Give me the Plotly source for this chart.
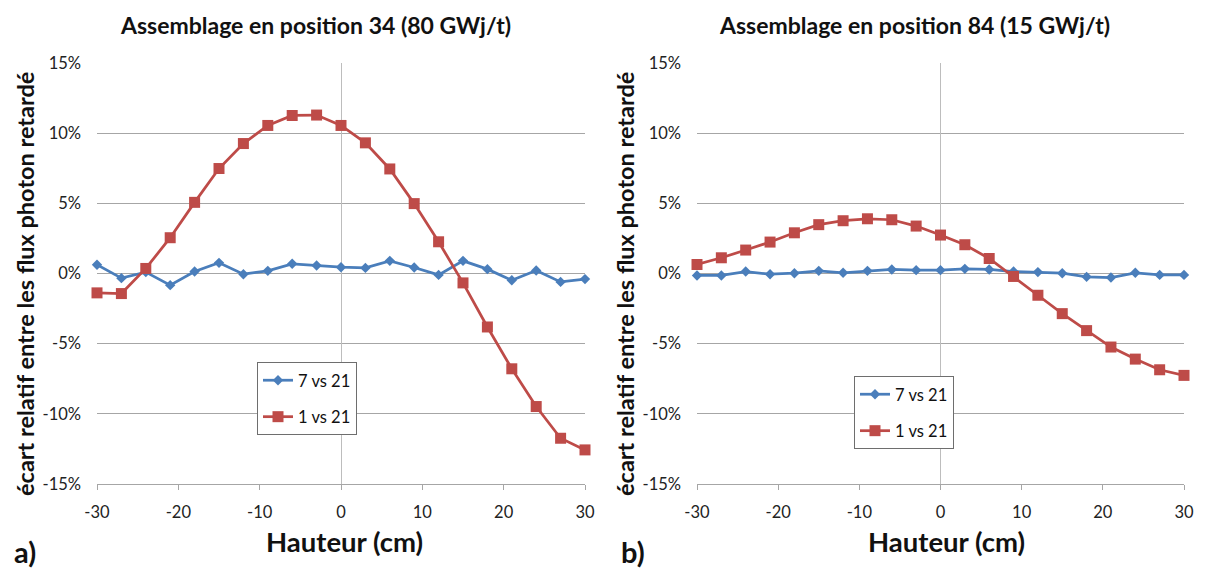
import plotly.graph_objects as go

hauteur = [-30, -27, -24, -21, -18, -15, -12, -9, -6, -3, 0, 3, 6, 9, 12, 15, 18, 21, 24, 27, 30]

a_7vs21 = [0.62, -0.33, 0.10, -0.83, 0.14, 0.76, -0.05, 0.19, 0.69, 0.57, 0.45, 0.40, 0.90, 0.43, -0.10, 0.90, 0.31, -0.48, 0.21, -0.60, -0.40]
a_1vs21 = [-1.38, -1.43, 0.36, 2.55, 5.07, 7.48, 9.26, 10.55, 11.26, 11.29, 10.55, 9.31, 7.45, 4.98, 2.26, -0.67, -3.81, -6.79, -9.48, -11.74, -12.57]

b_7vs21 = [-0.14, -0.14, 0.14, -0.05, 0.02, 0.19, 0.05, 0.19, 0.29, 0.24, 0.24, 0.33, 0.29, 0.14, 0.10, 0.02, -0.24, -0.29, 0.05, -0.10, -0.10]
b_1vs21 = [0.64, 1.12, 1.67, 2.24, 2.90, 3.48, 3.76, 3.90, 3.83, 3.38, 2.74, 2.05, 1.07, -0.21, -1.55, -2.86, -4.07, -5.24, -6.10, -6.86, -7.26]

titles = ["Assemblage en position 34 (80 GWj/t)", "Assemblage en position 84 (15 GWj/t)"]
panel_labels = ["a)", "b)"]
series_names = ["7 vs 21", "1 vs 21"]
y_ticks = [-15, -10, -5, 0, 5, 10, 15]
y_ticktext = ["-15%", "-10%", "-5%", "0%", "5%", "10%", "15%"]
x_ticks = [-30, -20, -10, 0, 10, 20, 30]
x_ticktext = ["-30", "-20", "-10", "0", "10", "20", "30"]
x_title = "Hauteur (cm)"
y_title = "écart relatif entre les flux photon retardé"

BLUE = "#4A7EBB"
RED = "#BE4B48"
FONT = "Lato"

W, H = 1205, 570
px = lambda v: v / W
py = lambda v: 1 - v / H

fig = go.Figure()

panels = [
    dict(b=a_7vs21, r=a_1vs21, xa="x", ya="y", leg="legend"),
    dict(b=b_7vs21, r=b_1vs21, xa="x2", ya="y2", leg="legend2"),
]
for p in panels:
    fig.add_trace(go.Scatter(x=hauteur, y=p["b"], name=series_names[0], mode="lines+markers",
                             line=dict(color=BLUE, width=2.75),
                             marker=dict(symbol="diamond", size=8, color=BLUE),
                             xaxis=p["xa"], yaxis=p["ya"], legend=p["leg"], legendgroup="g1",
                             cliponaxis=False))
    fig.add_trace(go.Scatter(x=hauteur, y=p["r"], name=series_names[1], mode="lines+markers",
                             line=dict(color=RED, width=2.75),
                             marker=dict(symbol="square", size=11, color=RED),
                             xaxis=p["xa"], yaxis=p["ya"], legend=p["leg"], legendgroup="g2",
                             cliponaxis=False))

xdoms = [[px(97), px(585)], [px(697), px(1184)]]
ydom = [py(484), py(63)]

axis_common_x = dict(range=[-30, 30], tickvals=x_ticks, ticktext=x_ticktext, showgrid=False,
                     zeroline=True, zerolinecolor="#BDBDBD", zerolinewidth=1,
                     showline=True, linecolor="#A6A6A6", linewidth=1,
                     ticks="outside", ticklen=5, tickcolor="#A6A6A6", ticklabelstandoff=8,
                     automargin=False,
                     tickfont=dict(family=FONT, size=16.5, color="#222"), fixedrange=True)
axis_common_y = dict(range=[-15, 15], tickvals=y_ticks, ticktext=y_ticktext,
                     showgrid=True, gridcolor="#A6A6A6", gridwidth=1, zeroline=False,
                     showline=False, ticks="", ticklabelstandoff=15, automargin=False,
                     tickfont=dict(family=FONT, size=16.5, color="#222"), fixedrange=True)

leg_common = dict(xanchor="left", yanchor="top", bordercolor="#6E6E6E", borderwidth=1,
                  bgcolor="white", font=dict(family=FONT, size=16.5, color="#111"),
                  tracegroupgap=12, traceorder="grouped")

fig.update_layout(
    width=W, height=H, margin=dict(l=0, r=0, t=0, b=0),
    paper_bgcolor="white", plot_bgcolor="white",
    xaxis=dict(domain=xdoms[0], anchor="y", **axis_common_x),
    yaxis=dict(domain=ydom, anchor="x", **axis_common_y),
    xaxis2=dict(domain=xdoms[1], anchor="y2", **axis_common_x),
    yaxis2=dict(domain=ydom, anchor="x2", **axis_common_y),
    legend=dict(x=px(257), y=py(362), **leg_common),
    legend2=dict(x=px(854), y=py(376), **leg_common),
    showlegend=True,
)

ann = []
title_cx = [315, 914]
ytitle_cx = [25, 625]
xtitle_cx = [344, 946]
label_cx = [25, 633]
for i in range(2):
    ann.append(dict(text="<b>" + titles[i] + "</b>", x=px(title_cx[i]), y=py(25), xref="paper", yref="paper",
                    xanchor="center", yanchor="middle", showarrow=False,
                    font=dict(family=FONT, size=23, color="#111")))
    ann.append(dict(text="<b>" + y_title + "</b>", x=px(ytitle_cx[i]), y=py(284), xref="paper", yref="paper",
                    xanchor="center", yanchor="middle", showarrow=False, textangle=-90,
                    font=dict(family=FONT, size=23.5, color="#111")))
    ann.append(dict(text="<b>" + x_title + "</b>", x=px(xtitle_cx[i]), y=py(541), xref="paper", yref="paper",
                    xanchor="center", yanchor="middle", showarrow=False,
                    font=dict(family=FONT, size=27.5, color="#111")))
    ann.append(dict(text="<b>" + panel_labels[i] + "</b>", x=px(label_cx[i]), y=py(551), xref="paper", yref="paper",
                    xanchor="center", yanchor="middle", showarrow=False,
                    font=dict(family=FONT, size=29, color="#111")))
fig.update_layout(annotations=ann)

fig.write_html("out.html", config={"displayModeBar": False},
               post_script="document.body.style.margin='0';document.body.style.overflow='hidden';")
